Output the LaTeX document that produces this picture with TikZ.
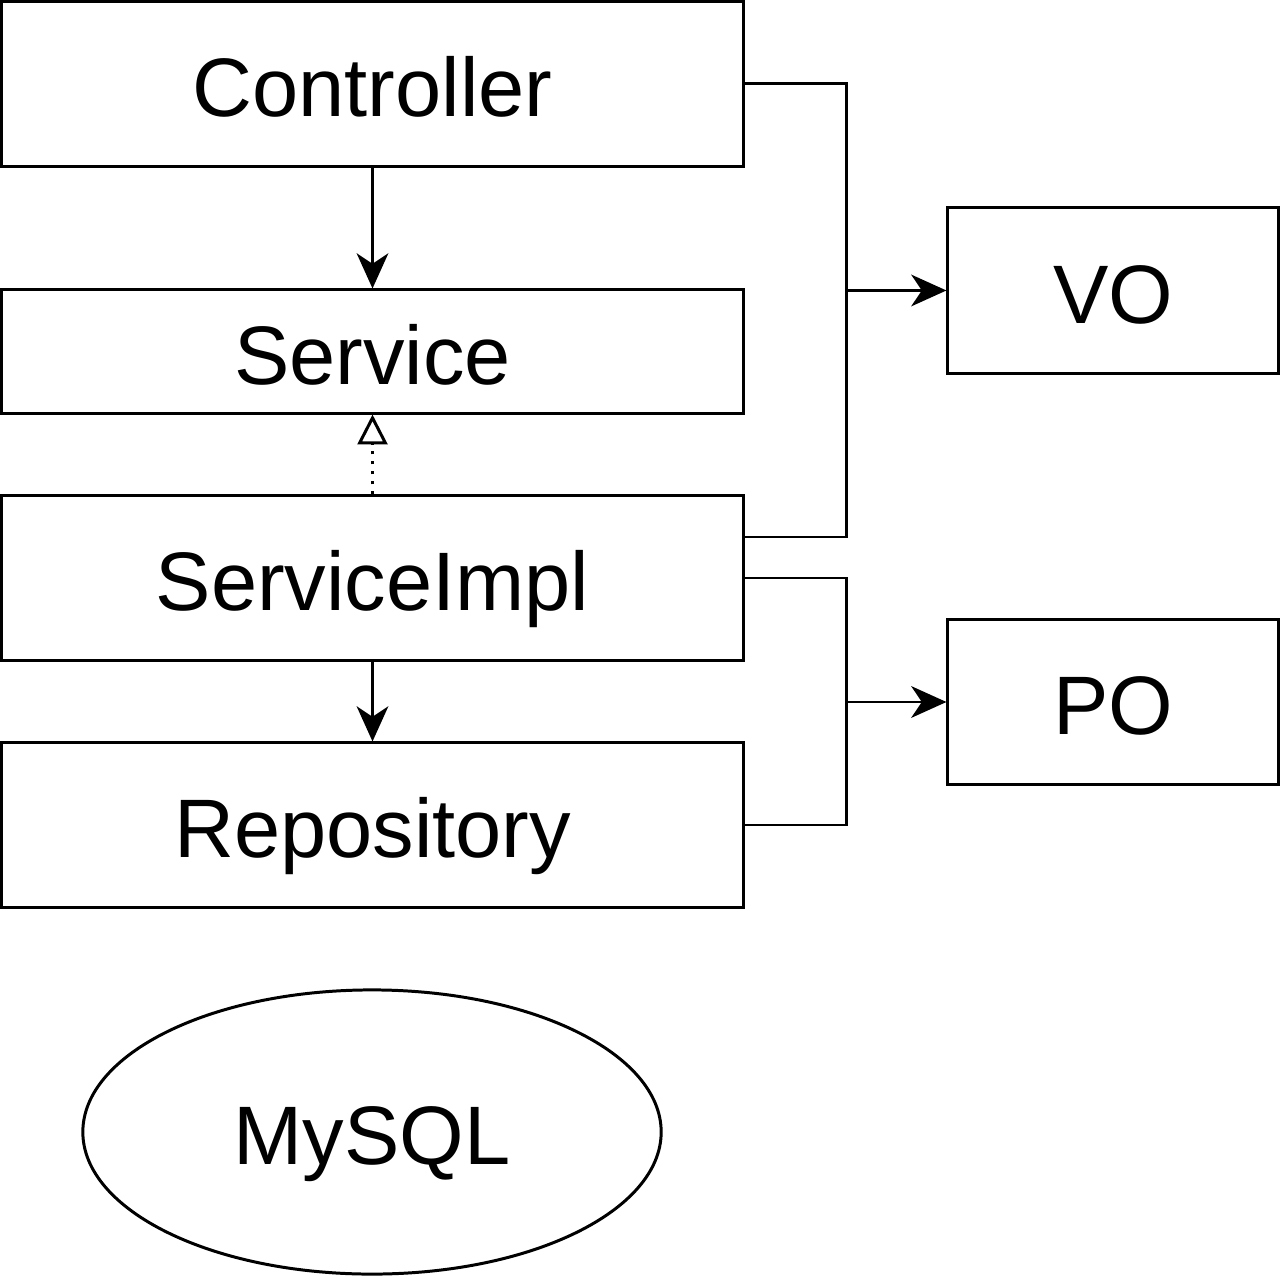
\documentclass[tikz,border=0pt]{standalone}
\usepackage{fontspec}
\setmainfont{Liberation Sans}
\usetikzlibrary{arrows.meta, positioning, calc, shapes.geometric}

\begin{document}
\begin{tikzpicture}[x=0.01cm, y=-0.01cm, >={Stealth[length=10pt, width=9pt, inset=3pt]},
  line width=0.85pt, font=\fontsize{23.6}{28}\selectfont,
  every node/.style={text height=18.6pt, text depth=0pt},
  layer/.style={draw, rectangle, minimum width=7.41cm, inner sep=0pt},
  side/.style={draw, rectangle, minimum width=3.30cm, minimum height=1.65cm, inner sep=0pt}]
  \useasboundingbox (0,0) rectangle (1280,1280);
  \node[layer, minimum height=1.64cm] (ctrl) at (372.5, 84) {Controller};
  \node[layer, minimum height=1.23cm] (svc) at (372.5, 351.5) {Service};
  \node[layer, minimum height=1.64cm] (impl) at (372.5, 578) {ServiceImpl};
  \node[layer, minimum height=1.64cm] (repo) at (372.5, 825) {Repository};
  \node[side] (vo) at (1113, 290.5) {VO};
  \node[side] (po) at (1113, 702) {PO};
  \node[draw, ellipse, minimum width=5.78cm, minimum height=2.84cm, inner sep=0pt] (db) at (372, 1132) {MySQL};
  \coordinate (vojoin) at (846, 290.5);
  \coordinate (pojoin) at (846, 702);
  % layers
  \draw[->] (ctrl) -- (svc);
  \draw[-{Triangle[open, length=8.5pt, width=8.5pt]}, dotted] (impl) -- (svc);
  \draw[->] (impl) -- (repo);
  % objects
  \draw (ctrl.east) -| (vojoin);
  \draw ($(impl.east)+(0,-41)$) -| (vojoin);
  \draw[->] (vojoin) -- (vo.west);
  \draw (impl.east) -| (pojoin);
  \draw (repo.east) -| (pojoin);
  \draw[->] (pojoin) -- (po.west);
\end{tikzpicture}
\end{document}
